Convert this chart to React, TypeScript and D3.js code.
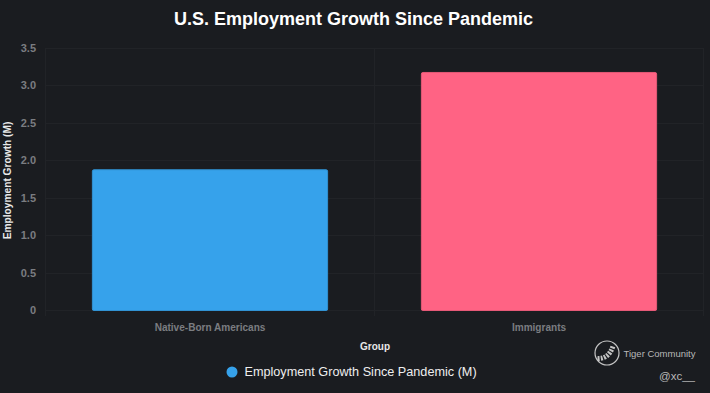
import React from "react";
import * as d3 from "d3";

const categories = ["Native-Born Americans", "Immigrants"];
const values = [1.88, 3.18];
const barColors = ["#36a2eb", "#ff6384"];
const yTicks = [0, 0.5, 1, 1.5, 2, 2.5, 3, 3.5];
const titleText = "U.S. Employment Growth Since Pandemic";
const seriesName = "Employment Growth Since Pandemic (M)";
const xAxisName = "Group";
const yAxisName = "Employment Growth (M)";

const W = 710, H = 393;
const font = "Arial, 'Liberation Sans', sans-serif";

export default function App() {
  const x = d3.scaleBand<string>().domain(categories).range([45.5, 703.5]).paddingInner(0).paddingOuter(0);
  const y = d3.scaleLinear().domain([0, 3.5]).range([310, 48]);
  const bw = x.bandwidth() * 0.715;
  const grid = "#212327";
  const bands = [...categories.map((c) => x(c)!), 703.5];
  return (
    <div style={{ position: "fixed", left: 0, top: 0, width: W, height: H }}>
      <svg width={W} height={H} style={{ display: "block", background: "#1a1c20", fontFamily: font }}>
        {yTicks.map((t) => (
          <g key={t}>
            <line x1={45.5} x2={703.5} y1={Math.round(y(t)) + 0.5} y2={Math.round(y(t)) + 0.5} stroke={grid} />
            <text x={36} y={y(t) + 4} textAnchor="end" fontSize={11} fontWeight={700} fill="#7b7d81">
              {d3.format(t === 0 ? ".0f" : ".1f")(t)}
            </text>
          </g>
        ))}
        {bands.map((b, i) => (
          <line key={i} x1={Math.floor(b) + 0.5} x2={Math.floor(b) + 0.5} y1={48} y2={316} stroke={grid} />
        ))}
        {categories.map((c, i) => {
          const cx = x(c)! + x.bandwidth() / 2;
          return (
            <g key={c}>
              <rect
                x={cx - bw / 2}
                y={y(values[i]) + 0.5}
                width={bw}
                height={y(0) - y(values[i])}
                rx={1.5}
                fill={barColors[i]}
                stroke={d3.color(barColors[i])!.darker(0.3).formatHex()}
                strokeWidth={1}
              />
              <text x={cx} y={330.5} textAnchor="middle" fontSize={10.05} fontWeight={700} fill="#7b7d81">
                {c}
              </text>
            </g>
          );
        })}
        <text x={353.5} y={25} textAnchor="middle" fontSize={18} fontWeight={700} fill="#ffffff">
          {titleText}
        </text>
        <text x={375} y={350} textAnchor="middle" fontSize={10} fontWeight={700} fill="#e8e8e8">
          {xAxisName}
        </text>
        <text transform="translate(11,180.5) rotate(-90)" textAnchor="middle" fontSize={10.2} fontWeight={700} fill="#e8e8e8">
          {yAxisName}
        </text>
        <circle cx={232} cy={372} r={5.5} fill={barColors[0]} />
        <text x={244.5} y={376} fontSize={12.66} fill="#eeeeee">
          {seriesName}
        </text>
        <g fill="none" stroke="#c4c4c4" strokeWidth={1.2}>
          <circle cx={607} cy={353} r={12} />
          <path d="M597.5 358.5 Q609 359 613 346" strokeWidth={5} strokeDasharray="2 1.2" />
        </g>
        <text x={623.5} y={357} fontSize={9.5} fill="#b8b8b8">
          Tiger Community
        </text>
        <text x={659} y={380} fontSize={11.5} fill="#b8b8b8">
          @xc__
        </text>
      </svg>
    </div>
  );
}
